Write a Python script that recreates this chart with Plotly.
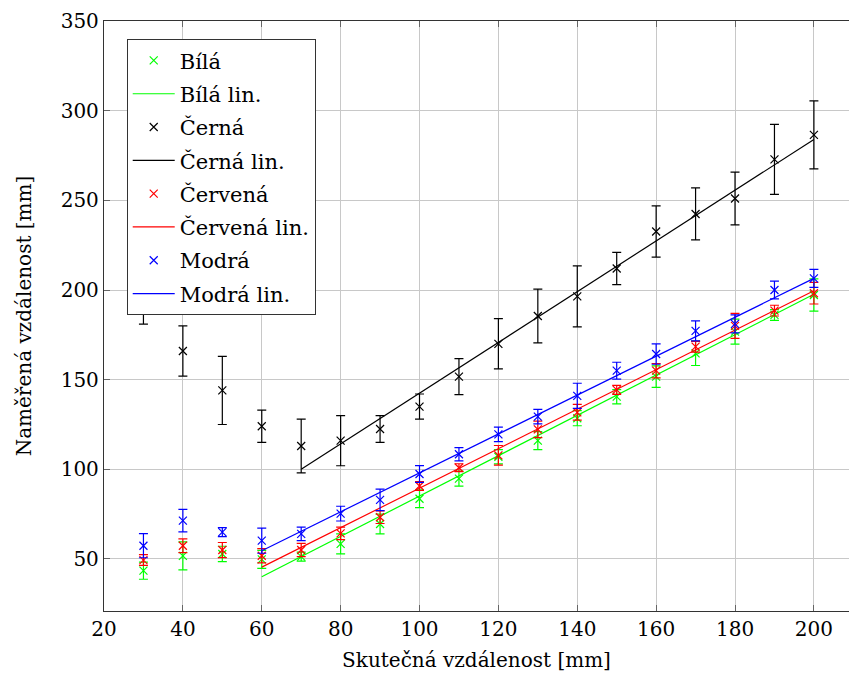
import plotly.graph_objects as go

x_vals = [30, 40, 50, 60, 70, 80, 90, 100, 110, 120, 130, 140, 150, 160, 170, 180, 190, 200]

bila_y = [43.5, 51.7, 52.8, 49.8, 51.3, 58.4, 69.5, 83.6, 94.8, 107, 116, 128.5, 140.5, 151.7, 164.7, 176.8, 186.1, 197.2]
bila_e = [4.8, 7.8, 4.3, 5, 2.5, 5.6, 5.5, 5, 4.2, 4, 5, 4.2, 4, 6, 6.8, 7, 3, 9]

cerna_y = [197, 166, 144, 124, 113, 116, 122.5, 135, 151.7, 170, 185.5, 196.4, 212, 232.6, 242.4, 251, 272.8, 286.5]
cerna_e = [16, 14, 19, 9, 15, 14, 7.5, 7, 10, 14, 15, 17, 9, 14.3, 14.5, 14.7, 19.5, 19]

cervena_y = [49.4, 57.4, 55, 51.8, 55, 64.3, 73.3, 90.7, 100.9, 107.8, 122.3, 131.8, 144.3, 155, 168.4, 180, 188.5, 198.2]
cervena_e = [3, 3.8, 4.2, 4, 3.7, 3.5, 3.5, 2.5, 2.2, 5.5, 4.6, 4.4, 2.5, 4, 3, 7, 3, 6]

modra_y = [57.4, 71.4, 65, 60.2, 64, 75.3, 83, 97.4, 108.4, 119.5, 129.4, 141, 155, 164.3, 177.2, 181.1, 200, 206.5]
modra_e = [6.7, 6.3, 2.5, 7, 3.8, 4.1, 6, 4.7, 3.7, 4, 4, 7, 4.7, 5.7, 5.6, 5, 5, 5]

# linear fits (slope, intercept, start x, end x)
bila_fit = (1.125, -27.4, 60, 200)
cerna_fit = (1.415, 0.95, 70, 200)
cervena_fit = (1.101, -20.6, 60, 200)
modra_fit = (1.085, -10.5, 60, 200)

series = [
    ("Bílá", bila_y, bila_e, bila_fit, "#00ff00"),
    ("Černá", cerna_y, cerna_e, cerna_fit, "#000000"),
    ("Červená", cervena_y, cervena_e, cervena_fit, "#ff0000"),
    ("Modrá", modra_y, modra_e, modra_fit, "#0000ff"),
]

FONT = "DejaVu Serif"

fig = go.Figure()
for name, ys, es, fit, col in series:
    fig.add_trace(go.Scatter(
        x=x_vals, y=ys, mode="markers", name=name, legendgroup=name,
        marker=dict(symbol="x-thin-open", size=8, color=col, line=dict(color=col, width=1.2)),
        error_y=dict(type="data", array=es, visible=True, color=col, thickness=1.2, width=4.5),
    ))
    slope, icpt, x0, x1 = fit
    lx = [xv for xv in x_vals if x0 <= xv <= x1]
    ly = [slope * xv + icpt for xv in lx]
    fig.add_trace(go.Scatter(
        x=lx, y=ly, mode="lines", name=name + " lin.", legendgroup=name + " lin.",
        line=dict(color=col, width=1.2),
    ))

axis_common = dict(
    showgrid=True, gridcolor="#c8c8c8", gridwidth=1,
    showline=True, linecolor="#333333", linewidth=1.3,
    ticks="inside", ticklen=6, tickcolor="#666666", tickwidth=1,
    zeroline=False,
    tickfont=dict(family=FONT, size=20, color="#000000"),
)

fig.update_layout(
    width=849, height=681,
    margin=dict(l=104, r=0, t=21, b=70),
    paper_bgcolor="white", plot_bgcolor="white",
    font=dict(family=FONT, color="#000000"),
    showlegend=True,
    legend=dict(
        x=0.0305, y=0.969, xanchor="left", yanchor="top",
        bgcolor="white", bordercolor="#333333", borderwidth=1,
        font=dict(family=FONT, size=21, color="#000000"),
        itemwidth=42, tracegroupgap=3, traceorder="grouped",
    ),
    xaxis=dict(
        range=[20, 208.9], tickmode="array",
        tickvals=[20, 40, 60, 80, 100, 120, 140, 160, 180, 200],
        mirror="ticks",
        title=dict(text="Skutečná vzdálenost [mm]", font=dict(family=FONT, size=20), standoff=12),
        **axis_common,
    ),
    yaxis=dict(
        range=[21, 350], tickmode="array",
        tickvals=[50, 100, 150, 200, 250, 300, 350],
        mirror=False,
        title=dict(text="Naměřená vzdálenost [mm]", font=dict(family=FONT, size=20), standoff=23),
        **axis_common,
    ),
)

fig.write_html("out.html")
